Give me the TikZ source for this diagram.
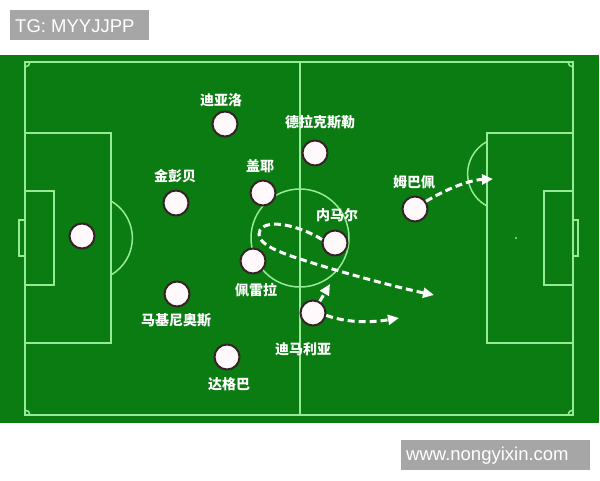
\documentclass[tikz,border=0pt]{standalone}
\usepackage{fontspec}
\setmainfont{Liberation Sans}
\newfontfamily\cjk{Noto Sans CJK SC}
\usetikzlibrary{arrows.meta}
\definecolor{pitch}{RGB}{10,124,18}
\definecolor{pline}{RGB}{150,235,150}
\definecolor{tagbg}{RGB}{166,166,166}
\definecolor{pborder}{RGB}{55,35,38}
\definecolor{pfill}{RGB}{255,249,252}
\tikzset{
  fl/.style={draw=pline, line width=1.5pt},
  player/.style={circle, draw=pborder, line width=2pt, fill=pfill, minimum size=25pt, inner sep=0pt},
  lab/.style={text=white, font=\cjk\bfseries\fontsize{14}{14}\selectfont, inner sep=0pt},
  tag/.style={fill=tagbg, text=white, font=\fontsize{18.5}{18.5}\selectfont, inner sep=0pt, anchor=north west},
  run/.style={draw=white, line width=3pt, dash pattern=on 7pt off 4pt, -{Triangle[length=11pt,width=10pt,fill=white]}}
}
\begin{document}
\begin{tikzpicture}[x=1pt,y=-1pt]
\useasboundingbox (0,0) rectangle (600,480);
\fill[white] (0,0) rectangle (600,480);
% pitch
\fill[pitch] (0,55) rectangle (599,423);
\draw[fl] (25,62) rectangle (573,415);
\draw[fl] (300,62) -- (300,415);
\draw[fl] (300,238) circle[radius=49];
% left side
\draw[fl] (25,133) rectangle (111,343);
\draw[fl] (25,191) rectangle (54,285);
\draw[fl] (25,220) -- (19,220) -- (19,256) -- (25,256);
\draw[fl] (111,201) arc[start angle=120, end angle=240, radius=-42.7];
% right side
\draw[fl] (487,133) rectangle (573,343);
\draw[fl] (544,191) rectangle (573,285);
\draw[fl] (573,220) -- (578,220) -- (578,256) -- (573,256);
\draw[fl] (487,206) arc[start angle=118, end angle=242, radius=36.5];
\fill[pline] (516,238) circle[radius=1.2];
% corner arcs
\draw[fl] (30,62) arc[start angle=0, end angle=90, radius=5];
\draw[fl] (568,62) arc[start angle=180, end angle=90, radius=5];
\draw[fl] (30,415) arc[start angle=0, end angle=-90, radius=5];
\draw[fl] (568,415) arc[start angle=180, end angle=270, radius=5];
% tags
\node[tag, minimum width=139pt, minimum height=30pt] (tg) at (10,10) {};
\node[text=white, font=\fontsize{18.5}{18.5}\selectfont, anchor=west, inner sep=0pt] (tgt) at (15,26) {TG: MYYJJPP};
\node[tag, minimum width=189pt, minimum height=30pt] (web) at (401,440) {};
\node[text=white, font=\fontsize{18.5}{18.5}\selectfont, anchor=west, inner sep=0pt] (webt) at (406,456) {www.nongyixin.com};
% players
\node[player] (gk) at (82,236) {};
\node[player] (dia) at (225,124) {};
\node[player] (dra) at (315,153) {};
\node[player] (kim) at (176,203) {};
\node[player] (gue) at (263,193) {};
\node[player] (mba) at (415,209) {};
\node[player] (ney) at (335,243) {};
\node[player] (per) at (253,261) {};
\node[player] (mar) at (177,294) {};
\node[player] (dim) at (313,313) {};
\node[player] (dag) at (227,357) {};
% labels
\node[lab] (ldia) at (221,100) {迪亚洛};
\node[lab] (ldra) at (320,122) {德拉克斯勒};
\node[lab] (lkim) at (175,176) {金彭贝};
\node[lab] (lgue) at (260,166) {盖耶};
\node[lab] (lmba) at (414,182) {姆巴佩};
\node[lab] (lney) at (337,215) {内马尔};
\node[lab] (lper) at (256,290) {佩雷拉};
\node[lab] (lmar) at (176,320) {马基尼奥斯};
\node[lab] (ldim) at (303,349) {迪马利亚};
\node[lab] (ldag) at (229,384) {达格巴};
% runs
\coordinate (mbaend) at (493,179);
\coordinate (neyend) at (434,295);
\coordinate (dimup) at (330,284);
\coordinate (dimend) at (399,318);
\draw[run] (mba.35) .. controls (445,190) and (468,180) .. (mbaend);
\draw[run] (ney.165) .. controls (300,226) and (268,218) .. (260,230)
  .. controls (254,242) and (275,251) .. (300,259)
  .. controls (340,272) and (395,287) .. (neyend);
\draw[run] (dim.60) -- (dimup);
\draw[run] (dim.-10) .. controls (350,324) and (375,322) .. (dimend);
\end{tikzpicture}
\end{document}
